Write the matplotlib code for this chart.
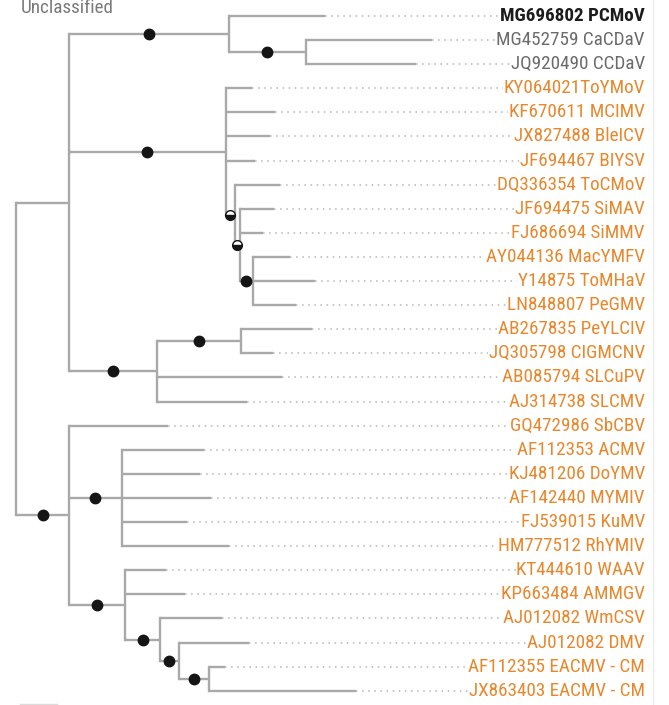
import matplotlib
matplotlib.use("Agg")
import matplotlib.pyplot as plt

# tree in newick, leaves are indices into the label list, F = full support dot, H = half dot
tree = ("(((0:0.96,(1:1.26,2:1.10)F:0.77)F:1.60,"
        "(3:0.26,4:0.49,5:0.44,6:0.29,(7:0.45,(8:0.34,9:0.23,(10:0.37,11:0.62,12:0.43)F:0.13)H:0.05)H:0.09)F:1.57,"
        "((13:0.71,14:0.32)F:0.84,15:1.25,16:0.90)F:0.88):0.53,"
        "(17:0.99,(18:0.82,19:0.78,20:0.89,21:0.65,22:1.07)F:0.53,"
        "(23:0.41,24:0.60,(25:0.62,(26:0.70,(27:0.16,28:1.47)F:0.30)F:0.19)F:0.35)F:0.56)F:0.53);")

labels = ["MG696802 PCMoV", "MG452759 CaCDaV", "JQ920490 CCDaV", "KY064021ToYMoV",
          "KF670611 MCIMV", "JX827488 BleICV", "JF694467 BIYSV", "DQ336354 ToCMoV",
          "JF694475 SiMAV", "FJ686694 SiMMV", "AY044136 MacYMFV", "Y14875 ToMHaV",
          "LN848807 PeGMV", "AB267835 PeYLCIV", "JQ305798 CIGMCNV", "AB085794 SLCuPV",
          "AJ314738 SLCMV", "GQ472986 SbCBV", "AF112353 ACMV", "KJ481206 DoYMV",
          "AF142440 MYMIV", "FJ539015 KuMV", "HM777512 RhYMIV", "KT444610 WAAV",
          "KP663484 AMMGV", "AJ012082 WmCSV", "AJ012082 DMV", "AF112355 EACMV - CM",
          "JX863403 EACMV - CM"]
groups = ["new", "unclass", "unclass"] + ["begomo"] * 26

colors = {"new": "#1c1c1c", "unclass": "#6b6b6b", "begomo": "#e8872c"}
branch_col = "#a9a9a9"
font = ["Roboto Condensed", "DejaVu Sans"]


def parse(s):
    pos = [0]

    def node():
        kids = []
        if s[pos[0]] == "(":
            pos[0] += 1
            kids.append(node())
            while s[pos[0]] == ",":
                pos[0] += 1
                kids.append(node())
            pos[0] += 1  # ')'
        start = pos[0]
        while s[pos[0]] not in ":,);":
            pos[0] += 1
        name = s[start:pos[0]]
        length = 0.0
        if s[pos[0]] == ":":
            pos[0] += 1
            start = pos[0]
            while s[pos[0]] not in ",);":
                pos[0] += 1
            length = float(s[start:pos[0]])
        return {"kids": kids, "name": name, "len": length}

    return node()


def layout(n, x0=0.0):
    n["x0"] = x0
    n["x"] = x0 + n["len"]
    if n["kids"]:
        for k in n["kids"]:
            layout(k, n["x"])
        ys = [k["y"] for k in n["kids"]]
        n["y"] = (min(ys) + max(ys)) / 2
    else:
        n["y"] = int(n["name"])
    return n


root = layout(parse(tree))

fig = plt.figure(figsize=(6.69, 7.05), dpi=100)
ax = fig.add_axes([0, 0, 1, 1])
ax.set_xlim(-0.16, 6.53)
ax.set_ylim(28.59, -0.664)
ax.axis("off")

label_x = 6.29


def draw(n):
    ax.plot([n["x0"], n["x"]], [n["y"], n["y"]], color=branch_col, lw=1.7,
            solid_capstyle="butt", zorder=2)
    if n["kids"]:
        ys = [k["y"] for k in n["kids"]]
        ax.plot([n["x"], n["x"]], [min(ys), max(ys)], color=branch_col, lw=1.7,
                solid_capstyle="projecting", zorder=2)
        for k in n["kids"]:
            draw(k)
        mid = (n["x0"] + n["x"]) / 2
        if n["name"] == "F":
            ax.plot(mid, n["y"], "o", color="#151515", ms=7.5, zorder=4)
        elif n["name"] == "H":
            ax.plot(mid, n["y"], "o", ms=7, fillstyle="bottom", markerfacecolor="#151515",
                    markerfacecoloralt="white", markeredgecolor="#151515", mew=1, zorder=4)
    else:
        i = int(n["name"])
        ax.plot([n["x"], label_x], [i, i], color="#b5b5b5", lw=1.1,
                linestyle=(0, (1, 3)), zorder=1)
        g = groups[i]
        ax.text(label_x, i, labels[i], ha="right", va="center", fontsize=13.8,
                family=font, color=colors[g], fontweight="bold" if g == "new" else "normal",
                bbox=dict(facecolor="white", edgecolor="none", pad=0.6), zorder=3)


draw(root)

ax.text(0.05, -0.12, "Unclassified", ha="left", va="baseline", fontsize=13.8,
        family=font, color="#7a7a7a")
ax.axvline(6.37, color="#ececec", lw=1, zorder=0)
ax.plot([0.04, 0.41], [28.55, 28.55], color="#dcdcdc", lw=1)

fig.savefig("out.png", dpi=100)
